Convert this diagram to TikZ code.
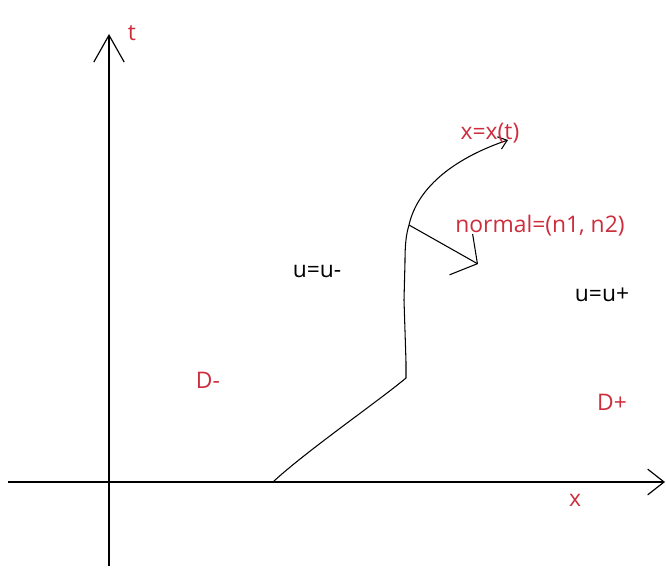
\documentclass[tikz,border=0pt]{standalone}
\usepackage{fontspec}
\setmainfont{Open Sans}
\usetikzlibrary{arrows.meta}
\definecolor{labelred}{RGB}{205,45,60}
\tikzset{
  axis/.style={line width=1pt,-{Straight Barb[length=14pt,width=22pt]}},
  front/.style={line width=0.9pt},
  redlabel/.style={text=labelred,inner sep=0pt,font=\fontsize{19.5}{23}\selectfont},
  blacklabel/.style={text=black,inner sep=0pt,font=\fontsize{19.5}{23}\selectfont}
}
\begin{document}
\begin{tikzpicture}[x=0.03cm,y=-0.03cm]
\useasboundingbox (0,0) rectangle (666,570);
\coordinate (tbot) at (109,566);
\coordinate (ttop) at (109,34);
\coordinate (xleft) at (8,482);
\coordinate (xright) at (665,482);
\draw[line width=1pt,-{Straight Barb[length=23pt,width=26pt]}] (tbot) -- (ttop);
\draw[axis] (xleft) -- (xright);
\coordinate (s0) at (273,482);
\coordinate (s1) at (406,378);
\coordinate (s2) at (409,225);
\coordinate (s3) at (508,140);
\coordinate (n) at (478,264);
\draw[front,-{Straight Barb[length=7pt,width=11pt]}] (s0) .. controls (305,452) and (380,400) .. (s1) -- (406,362) -- (404,300) -- (405,262) .. controls (405,245) and (406,235) .. (s2) .. controls (418,185) and (458,157) .. (s3);
\draw[front,-{Straight Barb[length=16pt,width=40pt]}] (s2) -- (n);
\node[redlabel] (tlab) at (132,33) {t};
\node[redlabel] (xlab) at (575,500) {x};
\node[redlabel] (curvelab) at (490,133) {x=x(t)};
\node[redlabel] (normallab) at (540,226) {normal=(n1, n2)};
\node[blacklabel] (uminus) at (317,272) {u=u-};
\node[blacklabel] (uplus) at (602,295) {u=u+};
\node[redlabel] (dminus) at (208,380) {D-};
\node[redlabel] (dplus) at (612,402) {D+};
\end{tikzpicture}
\end{document}
